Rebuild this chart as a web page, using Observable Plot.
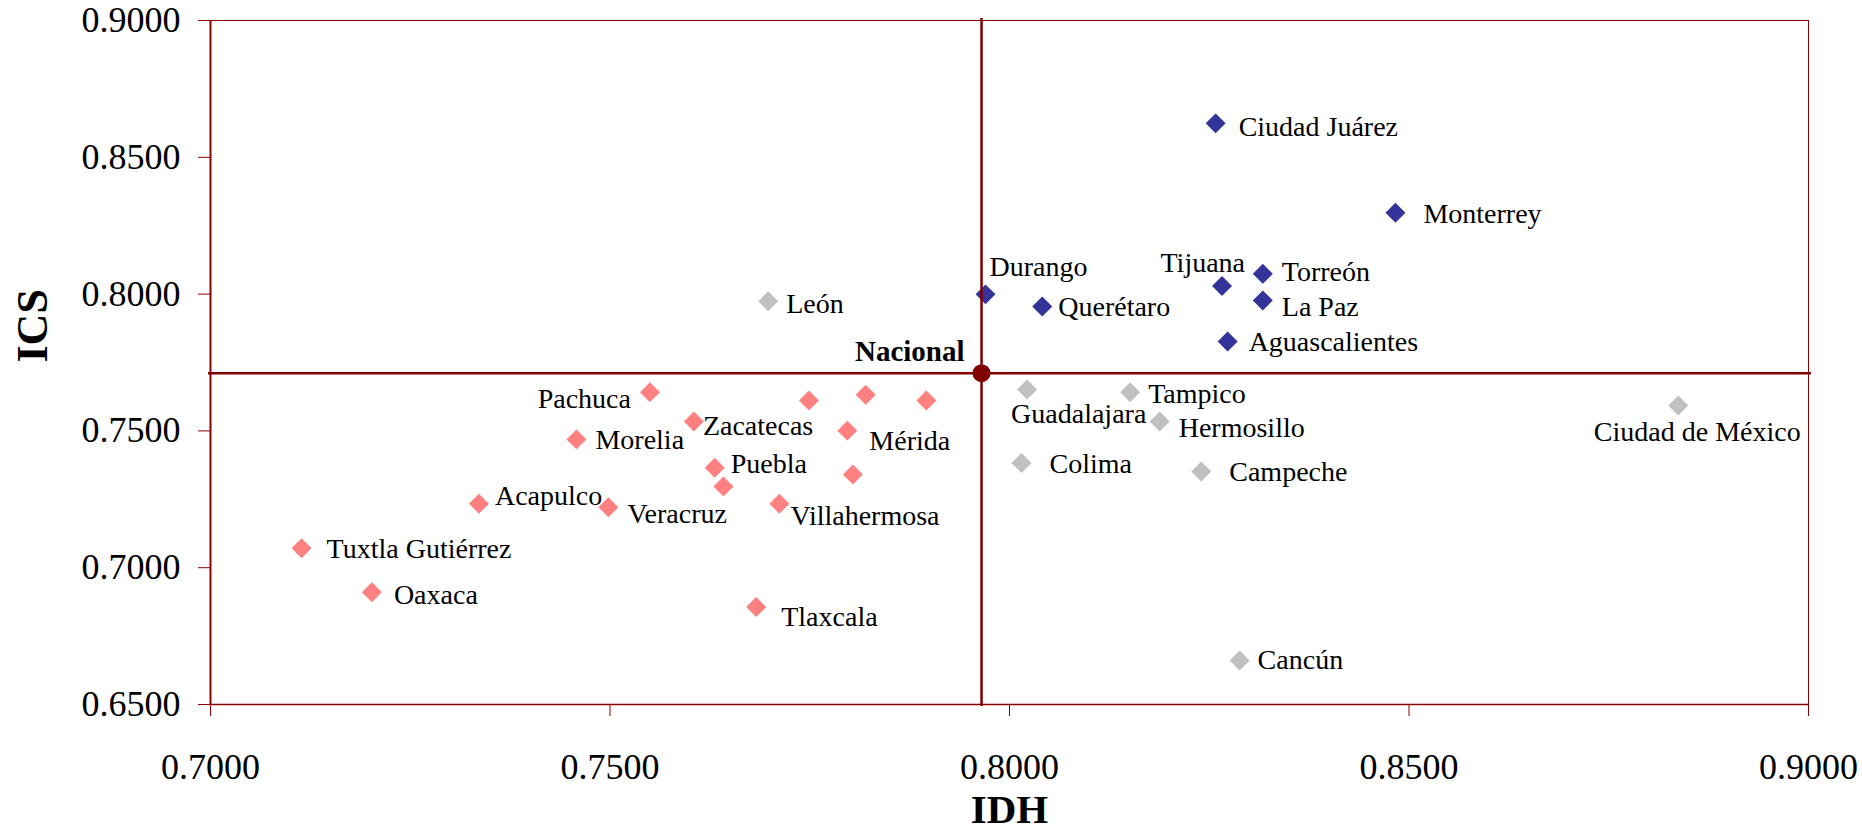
<!DOCTYPE html>
<html>
<head>
<meta charset="utf-8">
<script src="https://cdn.jsdelivr.net/npm/d3@7"></script>
<script src="https://cdn.jsdelivr.net/npm/@observablehq/plot@0.6"></script>
<style>
  html, body { margin: 0; padding: 0; background: #ffffff; overflow: hidden; }
  #chart svg { display: block; font-family: "Liberation Serif", "DejaVu Serif", serif !important; }
  #chart svg g, #chart svg text { font-family: "Liberation Serif", "DejaVu Serif", serif !important; font-variant: normal !important; }
</style>
</head>
<body>
<div id="chart"></div>
<script>
// ---- Data ----
const cities = [
  "Ciudad Juárez", "Monterrey", "Durango", "Querétaro", "Tijuana", "Torreón", "La Paz", "Aguascalientes",
  "León", "Guadalajara", "Tampico", "Hermosillo", "Colima", "Campeche", "Cancún", "Ciudad de México",
  "Pachuca", "", "", "", "Zacatecas", "Mérida", "Morelia", "Puebla", "", "", "Acapulco", "Veracruz",
  "Villahermosa", "Tuxtla Gutiérrez", "Oaxaca", "Tlaxcala"
];
const idh = [
  0.8258, 0.8483, 0.7970, 0.8041, 0.8266, 0.8317, 0.8317, 0.8273,
  0.7698, 0.8022, 0.8151, 0.8188, 0.8015, 0.8240, 0.8288, 0.8837,
  0.7550, 0.7749, 0.7820, 0.7896, 0.7605, 0.7797, 0.7458, 0.7631, 0.7642, 0.7804, 0.7336, 0.7498,
  0.7712, 0.7114, 0.7202, 0.7683
];
const ics = [
  0.8624, 0.8297, 0.7999, 0.7955, 0.8030, 0.8074, 0.7977, 0.7827,
  0.7974, 0.7651, 0.7641, 0.7534, 0.7383, 0.7352, 0.6661, 0.7593,
  0.7641, 0.7611, 0.7632, 0.7611, 0.7534, 0.7501, 0.7469, 0.7365, 0.7297, 0.7341, 0.7234, 0.7221,
  0.7234, 0.7071, 0.6910, 0.6856
];
const groups = [
  "alto", "alto", "alto", "alto", "alto", "alto", "alto", "alto",
  "mixto", "mixto", "mixto", "mixto", "mixto", "mixto", "mixto", "mixto",
  "bajo", "bajo", "bajo", "bajo", "bajo", "bajo", "bajo", "bajo", "bajo", "bajo", "bajo", "bajo",
  "bajo", "bajo", "bajo", "bajo"
];
const nacionalLabel = "Nacional";
const nacionalIDH = 0.7965;
const nacionalICS = 0.7711;
const xTicks = [0.70, 0.75, 0.80, 0.85, 0.90];
const yTicks = [0.65, 0.70, 0.75, 0.80, 0.85, 0.90];
const xTitle = "IDH";
const yTitle = "ICS";

// ---- Styling / label placement (pixel offsets, kept apart from the data) ----
const serif = "'Liberation Serif', 'DejaVu Serif', serif";
const groupColors = { alto: "#333399", mixto: "#C0C0C0", bajo: "#FF8080" };
const labelPlacement = {
  "Ciudad Juárez": [23, 4, "start"],
  "Monterrey": [28, 1, "start"],
  "Durango": [4, -27, "start"],
  "Querétaro": [16, 1, "start"],
  "Tijuana": [23, -23, "end"],
  "Torreón": [19, -2, "start"],
  "La Paz": [19, 7, "start"],
  "Aguascalientes": [21, 1, "start"],
  "León": [18, 3, "start"],
  "Guadalajara": [-16, 24, "start"],
  "Tampico": [18, 2, "start"],
  "Hermosillo": [19, 6, "start"],
  "Colima": [28, 1, "start"],
  "Campeche": [28, 1, "start"],
  "Cancún": [18, 0, "start"],
  "Ciudad de México": [19, 27, "middle"],
  "Pachuca": [-19, 7, "end"],
  "Zacatecas": [9, 4, "start"],
  "Mérida": [22, 10, "start"],
  "Morelia": [19, 1, "start"],
  "Puebla": [16, -4, "start"],
  "Acapulco": [16, -8, "start"],
  "Veracruz": [19, 7, "start"],
  "Villahermosa": [11, 12, "start"],
  "Tuxtla Gutiérrez": [25, 1, "start"],
  "Oaxaca": [22, 3, "start"],
  "Tlaxcala": [25, 10, "start"]
};

const points = cities.map((name, i) => ({ name, idh: idh[i], ics: ics[i], group: groups[i] }));
const axisRed = "#8B0000";
const crossRed = "#800000";

const labelMarks = points
  .filter(d => d.name !== "")
  .map(d => {
    const [dx, dy, anchor] = labelPlacement[d.name];
    return Plot.text([d], {
      x: "idh", y: "ics", text: "name",
      dx, dy, textAnchor: anchor, lineAnchor: "middle",
      fontSize: 28, fontFamily: serif, fill: "#000000"
    });
  });

const dotMarks = Object.keys(groupColors).map(g =>
  Plot.dot(points.filter(d => d.group === g), {
    x: "idh", y: "ics", symbol: "diamond2", r: 9, fill: groupColors[g], stroke: null
  })
);

const chart = Plot.plot({
  width: 1862,
  height: 831,
  marginLeft: 210,
  marginRight: 54,
  marginTop: 20,
  marginBottom: 127,
  x: { domain: [0.70, 0.90] },
  y: { domain: [0.65, 0.90] },
  style: { fontFamily: serif, background: "#ffffff", color: "#000000" },
  marks: [
    Plot.frame({ stroke: axisRed, strokeWidth: 1 }),
    Plot.ruleX([0.70], { stroke: axisRed, strokeWidth: 2 }),
    Plot.ruleY([0.65], { stroke: axisRed, strokeWidth: 1.5 }),
    Plot.axisY(yTicks, {
      tickSize: 12, tickPadding: 18, tickFormat: d3.format(".4f"),
      fontSize: 36, fontFamily: serif, fontVariant: "normal", stroke: axisRed, fill: "#000000", label: null
    }),
    Plot.axisX(xTicks, {
      tickSize: 12, tickPadding: 37, tickFormat: d3.format(".4f"),
      fontSize: 36, fontFamily: serif, fontVariant: "normal", stroke: axisRed, fill: "#000000", label: null
    }),
    ...dotMarks,
    ...labelMarks,
    Plot.ruleX([nacionalIDH], { stroke: crossRed, strokeWidth: 2.5, insetTop: -2, insetBottom: -2 }),
    Plot.ruleY([nacionalICS], { stroke: crossRed, strokeWidth: 2.5, insetLeft: -2, insetRight: -3 }),
    Plot.dot([{ idh: nacionalIDH, ics: nacionalICS }], { x: "idh", y: "ics", r: 9, fill: crossRed, stroke: null }),
    Plot.text([{ idh: nacionalIDH, ics: nacionalICS, name: nacionalLabel }], {
      x: "idh", y: "ics", text: "name", dx: -17, dy: -21, textAnchor: "end", lineAnchor: "middle",
      fontSize: 29, fontWeight: "bold", fontFamily: serif, fill: "#000000"
    }),
    Plot.text([xTitle], { frameAnchor: "bottom", dy: 105, lineAnchor: "middle", fontSize: 41, fontWeight: "bold", fontFamily: serif, fill: "#000000" }),
    Plot.text([yTitle], { frameAnchor: "left", dx: -178, rotate: -90, lineAnchor: "middle", fontSize: 44, fontWeight: "bold", fontFamily: serif, fill: "#000000" })
  ]
});

document.getElementById("chart").appendChild(chart);
</script>
</body>
</html>
